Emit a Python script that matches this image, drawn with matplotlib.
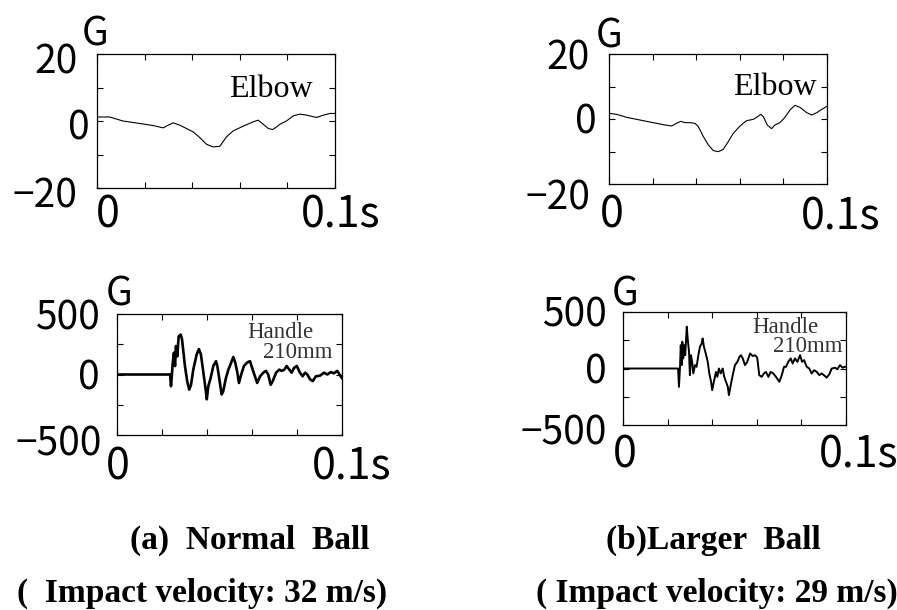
import matplotlib.pyplot as plt
from matplotlib.ticker import MultipleLocator

W, H = 897, 610

# Elbow acceleration (G) vs time (s)
elbow_a_t = [0, 0.0053, 0.0109, 0.0180, 0.0236, 0.0278, 0.0299, 0.0320, 0.0348, 0.0404,
             0.0432, 0.0460, 0.0488, 0.0516, 0.0544, 0.0572, 0.0614, 0.0656, 0.0677, 0.0698,
             0.0720, 0.0738, 0.0755, 0.0769, 0.0797, 0.0825, 0.0853, 0.0881, 0.0923, 0.0951,
             0.0979, 0.1]
elbow_a_g = [1.2, 1.2, 0.0, -0.75, -1.35, -2.05, -1.25, -0.55, -1.25, -3.25,
             -4.95, -6.95, -7.75, -7.55, -4.75, -2.95, -1.55, -0.25, 0.25, -0.95,
             -2.25, -2.55, -1.75, -0.95, 0.05, 1.55, 2.05, 1.75, 1.05, 1.75,
             2.25, 2.25]

elbow_b_t = [0, 0.0035, 0.0081, 0.0142, 0.0203, 0.0249, 0.0287, 0.0310, 0.0329, 0.0349,
             0.0372, 0.0394, 0.0410, 0.0433, 0.0456, 0.0479, 0.0502, 0.0524, 0.0547, 0.0570,
             0.0601, 0.0631, 0.0662, 0.0677, 0.0696, 0.0708, 0.0726, 0.0746, 0.0761, 0.0784,
             0.0807, 0.0830, 0.0853, 0.0876, 0.0907, 0.0930, 0.0953, 0.0976, 0.1]
elbow_b_g = [1.74, 1.44, 0.51, -0.31, -1.13, -1.74, -2.15, -1.33, -0.72, -1.13,
             -1.13, -1.33, -2.36, -5.44, -8.0, -9.74, -10.05, -9.33, -6.97, -4.41,
             -2.15, -0.51, -0.1, 0.51, 1.44, 0.72, -1.85, -2.97, -1.85, -1.13,
             0.51, 2.77, 4.21, 3.59, 1.95, 1.23, 1.95, 2.97, 3.9]

# Handle acceleration (G) vs time (s)
handle_a_t = [0, 0.0236, 0.0240, 0.0248, 0.0253, 0.0258, 0.0262, 0.0268, 0.0274, 0.0283,
              0.0289, 0.0295, 0.0302, 0.0312, 0.0321, 0.0329, 0.0339, 0.0354, 0.0364, 0.0373,
              0.0384, 0.0394, 0.0399, 0.0406, 0.0416, 0.0428, 0.0440, 0.0446, 0.0455, 0.0465,
              0.0472, 0.0484, 0.0495, 0.0507, 0.0517, 0.0526, 0.0535, 0.0542, 0.0552, 0.0564,
              0.0579, 0.0591, 0.0603, 0.0613, 0.0623, 0.0636, 0.0650, 0.0662, 0.0672, 0.0683,
              0.0692, 0.0707, 0.0721, 0.0732, 0.0744, 0.0754, 0.0766, 0.0776, 0.0787, 0.0799,
              0.0813, 0.0825, 0.0836, 0.0846, 0.0858, 0.0870, 0.0884, 0.0902, 0.0920, 0.0935,
              0.0950, 0.0964, 0.0979, 0.0994, 0.1]
handle_a_g = [0, 0, -97, 100, 180, 70, 235, 150, 315, 330,
              290, 190, 70, -55, -125, -85, 40, 165, 210, 165,
              15, -125, -205, -95, -30, 70, 110, 70, -40, -165,
              -140, -30, 40, 95, 145, 95, 15, -70, 0, 70,
              100, 110, 40, -15, -70, -15, 15, 30, 0, -85,
              -55, 15, 40, 30, 40, 70, 40, 15, 55, 70,
              15, -15, 15, 0, -40, -55, -15, -10, 15, 0,
              20, 10, 30, -15, -30]

handle_b_t = [0, 0.0247, 0.0251, 0.0256, 0.0259, 0.0263, 0.0266, 0.0270, 0.0275, 0.0279,
              0.0286, 0.0290, 0.0296, 0.0300, 0.0305, 0.0311, 0.0315, 0.0323, 0.0330, 0.0338,
              0.0345, 0.0353, 0.0357, 0.0363, 0.0371, 0.0380, 0.0387, 0.0395, 0.0400, 0.0409,
              0.0417, 0.0423, 0.0430, 0.0438, 0.0447, 0.0454, 0.0462, 0.0470, 0.0475, 0.0483,
              0.0492, 0.0502, 0.0513, 0.0522, 0.0529, 0.0537, 0.0547, 0.0557, 0.0570, 0.0582,
              0.0592, 0.0602, 0.0611, 0.0622, 0.0632, 0.0641, 0.0652, 0.0662, 0.0674, 0.0686,
              0.0701, 0.0712, 0.0722, 0.0731, 0.0741, 0.0752, 0.0761, 0.0771, 0.0782, 0.0794,
              0.0803, 0.0812, 0.0824, 0.0835, 0.0846, 0.0857, 0.0869, 0.0880, 0.0891, 0.0901,
              0.0913, 0.0925, 0.0936, 0.0951, 0.0961, 0.0973, 0.0985, 0.0996]
handle_b_g = [0, 0, -162, 30, 206, 30, 237, 89, 206, 118,
              370, 266, 148, -59, 118, 44, -44, 30, 15, 118,
              192, 221, 266, 192, 133, 59, -44, -118, -192, -103,
              -30, -74, 0, -44, 0, -74, -118, -162, -236, -148,
              -59, 30, 59, 103, 118, 89, 30, 59, 133, 110,
              118, 95, -59, -74, -44, -30, -74, -30, -44, -74,
              -118, -59, 15, 15, 59, 89, 44, 89, 59, 118,
              59, 74, 15, 0, -44, -15, -30, -59, -44, -59,
              -81, -52, 0, 7, -7, 30, 7, 15]

NUM = ['Noto Sans CJK JP', 'DejaVu Sans']
Y_SIZE = 28
X_SIZE = 31

fig = plt.figure(figsize=(W / 100, H / 100), dpi=100)


def box(l, t, r, b):
    return [l / W, 1 - b / H, (r - l) / W, (b - t) / H]


def ftext(x, y, s, **kw):
    fig.text(x / W, 1 - y / H, s, **kw)


def panel(rect, t, g, ylim, ystep, lw, ylabs, xlabs):
    ax = fig.add_axes(box(*rect))
    ax.plot(t, g, color='black', lw=lw)
    ax.set_xlim(0, 0.1)
    ax.set_ylim(-ylim, ylim)
    ax.xaxis.set_major_locator(MultipleLocator(0.02))
    ax.yaxis.set_major_locator(MultipleLocator(ystep))
    ax.tick_params(direction='in', length=4, width=0.8, top=True, right=True,
                   labelleft=False, labelbottom=False)
    for s in ax.spines.values():
        s.set_linewidth(0.9)
    # hand-placed tick labels, as in the original figure
    for val, txt, dx, dy in ylabs:
        ax.annotate(txt, xy=(0, val), xycoords=('axes fraction', 'data'),
                    xytext=(dx, -dy), textcoords='offset pixels', ha='right', va='center',
                    fontsize=Y_SIZE, family=NUM, annotation_clip=False)
    for val, txt, dx, dy, ha in xlabs:
        ax.annotate(txt, xy=(val, 0), xycoords=('data', 'axes fraction'),
                    xytext=(dx, -dy), textcoords='offset pixels', ha=ha, va='top',
                    fontsize=X_SIZE, family=NUM, annotation_clip=False)
    return ax


panel((97, 54, 335, 188), elbow_a_t, elbow_a_g, 20, 10, 0.8,
      [(20, '20', -19, 8), (0, '0', -7, 7), (-20, '−20', -20, 8)],
      [(0, '0', -1, 6, 'left'), (0.1, '0.1s', -34, 6, 'left')])
panel((609, 54, 827, 184), elbow_b_t, elbow_b_g, 20, 10, 0.8,
      [(20, '20', -19, 5), (0, '0', -12, 3), (-20, '−20', -19, 14)],
      [(0, '0', 3, 10, 'center'), (0.1, '0.1s', -26, 11, 'left')])
panel((117, 314, 342, 435), handle_a_t, handle_a_g, 500, 250, 1.9,
      [(500, '500', -17, 4), (0, '0', -17, 4.5), (-500, '−500', -15, 9.5)],
      [(0, '0', 1, 10, 'center'), (0.1, '0.1s', -30, 10, 'left')])
panel((623, 312, 846, 425), handle_b_t, handle_b_g, 500, 250, 1.4,
      [(500, '500', -16, 3.5), (0, '0', -16, 4), (-500, '−500', -16, 8.5)],
      [(0, '0', 2, 9, 'center'), (0.1, '0.1s', -27, 9, 'left')])

# unit marks
for x, y in [(82, 46), (596, 48), (106, 306), (612, 306)]:
    ftext(x, y, 'G', fontsize=Y_SIZE, family=NUM, ha='left', va='baseline')

serif = 'Liberation Serif'
ftext(313, 97, 'Elbow', fontsize=23, family=serif, ha='right', va='baseline')
ftext(817, 95, 'Elbow', fontsize=23, family=serif, ha='right', va='baseline')
ftext(313, 338, 'Handle', fontsize=16.5, family=serif, color='#333333', ha='right', va='baseline')
ftext(333, 358, '210mm', fontsize=16.5, family=serif, color='#333333', ha='right', va='baseline')
ftext(818, 333, 'Handle', fontsize=16.5, family=serif, color='#333333', ha='right', va='baseline')
ftext(842, 352, '210mm', fontsize=16.5, family=serif, color='#333333', ha='right', va='baseline')

ftext(250, 540, '(a)  Normal  Ball', fontsize=24, family=serif, weight='bold', ha='center', va='center')
ftext(202, 593, '(  Impact velocity: 32 m/s)', fontsize=24, family=serif, weight='bold',
      ha='center', va='center')
ftext(713, 540, '(b)Larger  Ball', fontsize=24, family=serif, weight='bold', ha='center', va='center')
ftext(717, 593, '( Impact velocity: 29 m/s)', fontsize=24, family=serif, weight='bold',
      ha='center', va='center')

fig.savefig('out.png', dpi=100)
